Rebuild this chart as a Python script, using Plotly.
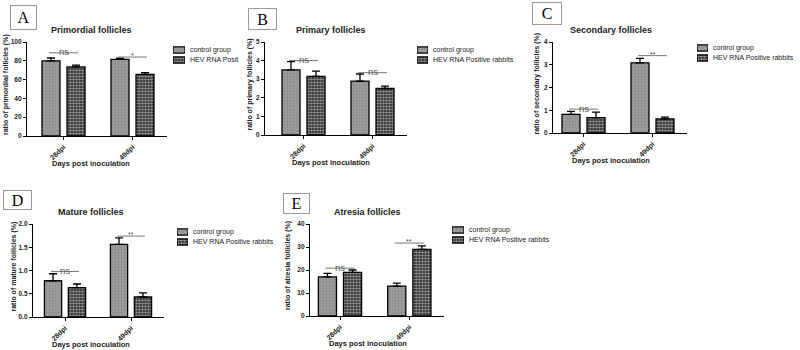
import plotly.graph_objects as go

# ---------------- data ----------------
categories = ["28dpi", "49dpi"]
series_names = ["control group", "HEV RNA Positive rabbits"]
panel_letters = ["A", "B", "C", "D", "E"]
panel_titles = ["Primordial follicles", "Primary follicles", "Secondary follicles",
                "Mature follicles", "Atresia follicles"]
y_titles = ["ratio of primordial follicles (%)", "ratio of primary follicles (%)",
            "ratio of secondary follicles (%)", "ratio of mature follicles (%)",
            "ratio of atresia follicles (%)"]
x_title = "Days post inoculation"
legend_labels = [["control group", "HEV RNA Posit"], series_names, series_names,
                 series_names, series_names]

control_means = [[80, 81.5], [3.5, 2.9], [0.82, 3.08], [0.78, 1.56], [17, 13]]
control_err = [[3.0, 1.2], [0.45, 0.38], [0.13, 0.2], [0.15, 0.14], [1.5, 1.3]]
hev_means = [[73.5, 65.5], [3.15, 2.5], [0.68, 0.62], [0.63, 0.43], [19, 29]]
hev_err = [[1.8, 2.0], [0.28, 0.13], [0.24, 0.08], [0.08, 0.09], [1.0, 1.5]]
sig_levels = [[88.5, 84], [4.0, 3.35], [1.05, 3.4], [0.98, 1.74], [20.8, 31.7]]
sig_labels = [["ns", "*"], ["ns", "ns"], ["ns", "**"], ["ns", "**"], ["ns", "**"]]
y_max = [100, 5, 4, 2, 40]
y_dtick = [20, 1, 1, 0.5, 10]
y_format = ["", "", "", ".1f", ""]

# ---------------- layout geometry (pixels) ----------------
W, H = 800, 350
panels_px = [
    dict(l=27, r=167, t=42, b=136, c0=63.5, lg=(173, 185, 50), box=(10, 37, 5, 30), yts=-21),
    dict(l=265, r=407, t=42, b=135, c0=303.5, lg=(417, 428, 50), box=(248, 277, 8, 30), yts=-16),
    dict(l=553, r=687, t=42, b=133, c0=583.5, lg=(697, 708, 48), box=(532, 562, 2, 25), yts=-17),
    dict(l=33, r=164, t=224, b=317, c0=65, lg=(177, 188, 232), box=(3, 32, 190, 210), yts=-20),
    dict(l=310, r=444, t=224, b=316, c0=340, lg=(452, 464, 230), box=(283, 310, 193, 214), yts=-22),
]

FONT = "Liberation Sans, Arial, sans-serif"
ctrl_marker = dict(color="#8e8e8e", line=dict(color="black", width=1.3),
                   pattern=dict(shape=".", fgcolor="#787878", bgcolor="#9c9c9c",
                                size=3, solidity=0.3))
hev_marker = dict(color="white", line=dict(color="black", width=1.3),
                  pattern=dict(shape=".", fgcolor="white", bgcolor="#1a1a1a",
                               size=3, solidity=0.65))

fig = go.Figure()
layout_axes = {}
annotations = []
shapes = []

def px_x(v):
    return v / W

def px_y(v):
    return 1 - v / H

for i in range(5):
    p = panels_px[i]
    k = i + 1
    xa = "x" if k == 1 else f"x{k}"
    ya = "y" if k == 1 else f"y{k}"
    xkey = "xaxis" if k == 1 else f"xaxis{k}"
    ykey = "yaxis" if k == 1 else f"yaxis{k}"

    for means, errs, mk, nm in [(control_means[i], control_err[i], ctrl_marker, series_names[0]),
                                (hev_means[i], hev_err[i], hev_marker, series_names[1])]:
        fig.add_trace(go.Bar(
            x=categories, y=means, name=nm, marker=mk, showlegend=False,
            error_y=dict(type="data", array=errs, arrayminus=[0] * len(errs),
                         symmetric=False, color="black", thickness=1.3, width=4),
            xaxis=xa, yaxis=ya))

    ppu = (p["r"] - p["c0"]) / 1.5
    left = (p["l"] - p["c0"]) / ppu
    layout_axes[xkey] = dict(
        domain=[px_x(p["l"]), px_x(p["r"])], anchor=ya, type="category",
        range=[left, 1.5], showline=True, linecolor="black", linewidth=1.3,
        ticks="outside", ticklen=3, tickwidth=1.2, tickcolor="black",
        tickangle=-45, tickfont=dict(family=FONT, size=7, color="#222", weight="bold"),
        showgrid=False, zeroline=False, fixedrange=True, automargin=False)
    layout_axes[ykey] = dict(
        domain=[px_y(p["b"]), px_y(p["t"])], anchor=xa,
        range=[0, y_max[i]], dtick=y_dtick[i], tick0=0, tickformat=y_format[i],
        showline=True, linecolor="black", linewidth=1.3,
        ticks="outside", ticklen=3, tickwidth=1.2, tickcolor="black",
        tickfont=dict(family=FONT, size=6.5, color="#222", weight="bold"),
        showgrid=False, zeroline=False, fixedrange=True, automargin=False)

    # titles
    annotations.append(dict(text=panel_titles[i], xref=xa, yref=f"{ya} domain",
                            x=0.4, y=1, yanchor="middle", yshift=12, showarrow=False,
                            font=dict(family=FONT, size=9, color="#222", weight="bold")))
    annotations.append(dict(text=x_title, xref=xa, yref=f"{ya} domain",
                            x=0.4, y=0, yanchor="middle", yshift=-27, showarrow=False,
                            font=dict(family=FONT, size=7.5, color="#222", weight="bold")))
    annotations.append(dict(text=y_titles[i], xref=f"{xa} domain", yref=f"{ya} domain",
                            x=0, y=0.5, xanchor="center", yanchor="middle",
                            xshift=p["yts"], yshift=4, textangle=-90, showarrow=False,
                            font=dict(family=FONT, size=7, color="#222", weight="bold")))
    # panel letter box
    bx0, bx1, by0, by1 = p["box"]
    annotations.append(dict(text=panel_letters[i], xref="paper", yref="paper",
                            x=px_x((bx0 + bx1) / 2), y=px_y((by0 + by1) / 2),
                            xanchor="center", yanchor="middle", showarrow=False,
                            width=bx1 - bx0 - 2, height=by1 - by0 - 2,
                            bordercolor="#9a9a9a", borderwidth=1, borderpad=0,
                            font=dict(family="Liberation Serif, Times New Roman, serif",
                                      size=16, color="black")))
    # significance lines and labels
    for j, cat in enumerate(categories):
        shapes.append(dict(type="line", xref=xa, yref=ya,
                           x0=j - 0.21, x1=j + 0.21,
                           y0=sig_levels[i][j], y1=sig_levels[i][j],
                           line=dict(color="#777", width=1)))
        lab = sig_labels[i][j]
        if lab == "ns":
            annotations.append(dict(text=lab, xref=xa, yref=ya, x=j, y=sig_levels[i][j],
                                    yanchor="middle", yshift=1, showarrow=False,
                                    font=dict(family=FONT, size=9.5, color="#555")))
        else:
            annotations.append(dict(text=lab, xref=xa, yref=ya, x=j, y=sig_levels[i][j],
                                    yanchor="bottom", yshift=-4, showarrow=False,
                                    font=dict(family=FONT, size=7, color="#444")))

    # custom compact legend (swatches drawn as bars on a small hidden axis)
    lk = k + 5
    lxa, lya = f"x{lk}", f"y{lk}"
    sx0, sx1, r0 = p["lg"]
    for j, mk in enumerate([ctrl_marker, hev_marker]):
        fig.add_trace(go.Bar(x=[1], y=[j], orientation="h", width=0.62, offset=-0.31,
                             marker=mk, showlegend=False, cliponaxis=False,
                             hoverinfo="skip", xaxis=lxa, yaxis=lya))
    layout_axes[f"xaxis{lk}"] = dict(domain=[px_x(sx0), px_x(sx1)], anchor=lya,
                                     range=[0, 1], visible=False, fixedrange=True,
                                     automargin=False)
    layout_axes[f"yaxis{lk}"] = dict(domain=[px_y(r0 + 15), px_y(r0 - 5)], anchor=lxa,
                                     range=[1.5, -0.5], side="right",
                                     tickvals=[0, 1], ticktext=legend_labels[i],
                                     ticks="", showline=False, showgrid=False,
                                     zeroline=False, ticklabelstandoff=4,
                                     tickfont=dict(family=FONT, size=7, color="#222"),
                                     fixedrange=True, automargin=False)

fig.update_layout(
    width=W, height=H, autosize=False,
    margin=dict(l=0, r=0, t=0, b=0, autoexpand=False),
    paper_bgcolor="white", plot_bgcolor="white",
    barmode="group", bargap=0.275, bargroupgap=0.28,
    showlegend=False,
    annotations=annotations, shapes=shapes,
    font=dict(family=FONT),
    **layout_axes,
)

fig.write_html(
    "out.html",
    config={"displayModeBar": False, "responsive": False},
    post_script="document.body.style.margin='0';document.body.style.padding='0';",
)
